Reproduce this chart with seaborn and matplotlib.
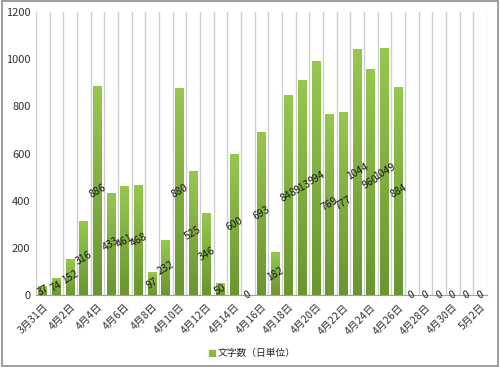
import matplotlib
matplotlib.use("Agg")
import matplotlib.pyplot as plt
import numpy as np
import pandas as pd
import seaborn as sns
from matplotlib.colors import LinearSegmentedColormap
from matplotlib.patches import Rectangle

dates = ["3月31日"] + [f"4月{d}日" for d in range(1, 31)] + ["5月1日", "5月2日"]
counts = [37, 74, 152, 316, 886, 433, 461, 468, 97, 232, 880, 525, 346, 50, 600, 0,
          693, 182, 848, 913, 994, 769, 777, 1044, 960, 1049, 884, 0, 0, 0, 0, 0, 0]
series_name = "文字数（日単位）"

df = pd.DataFrame({"date": dates, "count": counts})

sns.set_style("white")
plt.rcParams["font.family"] = ["Noto Sans CJK JP", "DejaVu Sans"]

fig = plt.figure(figsize=(5, 3.67), dpi=100)
ax = fig.add_axes([0.072, 0.196, 0.902, 0.771])

sns.barplot(data=df, x="date", y="count", color="#8cb845", width=0.65,
            ax=ax, zorder=3)

# gradient fill, light on top, darker at the bottom
cmap = LinearSegmentedColormap.from_list("g", ["#6a9530", "#98c750"])
grad = np.linspace(0, 1, 256).reshape(-1, 1)
for bar in ax.patches:
    h = bar.get_height()
    if h <= 0:
        continue
    x0 = bar.get_x()
    w = bar.get_width()
    im = ax.imshow(grad, extent=[x0, x0 + w, 0, h], origin="lower", aspect="auto",
                   cmap=cmap, zorder=4)
    im.set_clip_path(bar)

for i, v in enumerate(counts):
    ax.text(i, v / 2, str(v), ha="center", va="center", rotation=30,
            fontsize=7.5, color="#1a1a1a", zorder=6)

ax.set_xlim(-0.5, len(dates) - 0.5)
ax.set_ylim(0, 1200)
ax.set_yticks(range(0, 1201, 200))
ax.set_xticks(range(0, len(dates), 2))
ax.set_xticklabels(dates[::2], rotation=45, ha="right", rotation_mode="anchor",
                   fontsize=7.5, color="#333333")
ax.tick_params(axis="y", labelsize=8, labelcolor="#333333", length=0, pad=4)
ax.tick_params(axis="x", length=0, pad=5)
ax.set_xlabel("")
ax.set_ylabel("")

for b in np.arange(-0.5, len(dates), 1):
    ax.axvline(b, color="#cfcfcf", lw=1.0, zorder=1)

for side in ["top", "right", "left"]:
    ax.spines[side].set_visible(False)
ax.spines["bottom"].set_color("#a0a0a0")
ax.spines["bottom"].set_zorder(5)

handle = Rectangle((0, 0), 1, 1, color="#8cb845")
fig.legend([handle], [series_name], loc="lower center", bbox_to_anchor=(0.505, 0.0),
           frameon=False, fontsize=7, handlelength=0.6, handleheight=0.6,
           handletextpad=0.3)

fig.patches.append(Rectangle((0.004, 0.004), 0.992, 0.992, transform=fig.transFigure,
                             fill=False, edgecolor="#8c8c8c", lw=1.2))

fig.savefig("out.png", dpi=100)
